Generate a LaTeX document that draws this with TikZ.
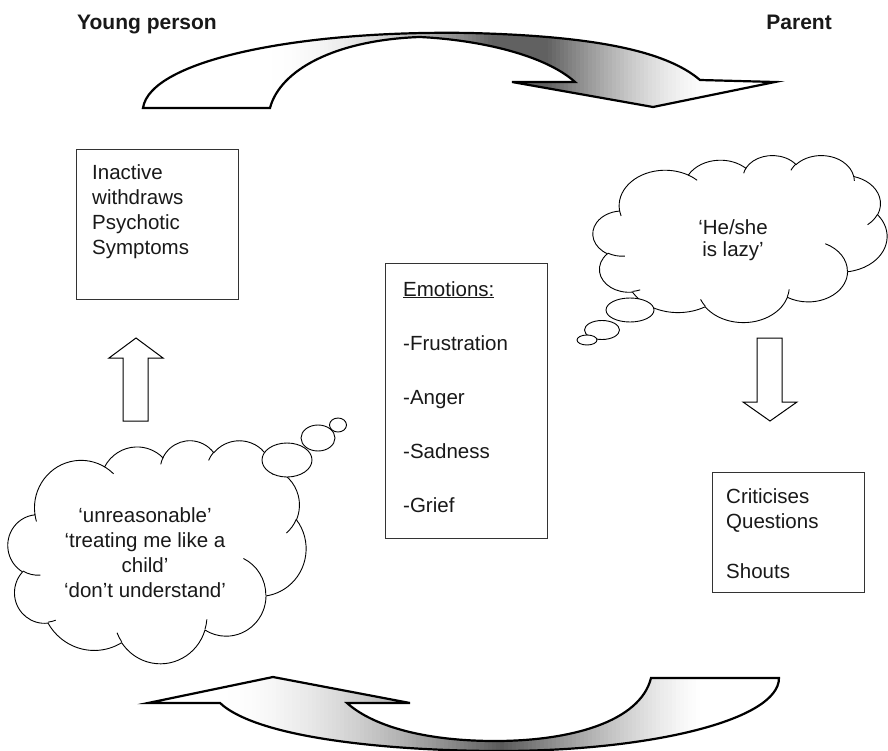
\documentclass[tikz,border=0pt]{standalone}
\usepackage{fontspec}
\setmainfont{Liberation Sans}
\usetikzlibrary{shapes.geometric}
% Word-style cloud: parametric angles from visual angles
\newcommand\cldprep[5]{%
  \pgfmathsetmacro\cldtS{atan2((#2)*sin(#4),(#3)*cos(#4))}%
  \pgfmathsetmacro\cldtE{atan2((#2)*sin((#4)+(#5)),(#3)*cos((#4)+(#5)))}%
  \pgfmathsetmacro\cldtD{\cldtE-\cldtS}%
  \pgfmathsetmacro\cldtD{\cldtD<0 ? \cldtD+360 : \cldtD}%
  \expandafter\let\csname cldS#1\endcsname\cldtS
  \expandafter\let\csname cldD#1\endcsname\cldtD
}
\cldprep{a}{6.753}{9.190}{-190.4875}{123.7805}
\cldprep{b}{5.333}{7.267}{-144.1024}{89.9452}
\cldprep{c}{4.365}{5.945}{-145.8079}{99.7230}
\cldprep{d}{4.857}{6.595}{-130.9861}{117.2417}
\cldprep{e}{5.333}{7.273}{-78.7089}{109.0269}
\cldprep{f}{6.775}{9.220}{-46.2673}{130.2690}
\cldprep{g}{5.785}{7.867}{0.6250}{114.0333}
\cldprep{h}{6.752}{9.215}{22.4516}{115.1726}
\cldprep{i}{7.720}{10.543}{66.2426}{75.7110}
\cldprep{j}{4.360}{5.918}{-274.9421}{146.7356}
\cldprep{k}{4.345}{5.945}{-246.8285}{152.5189}
\cldprep{l}{4.345}{5.945}{86.7420}{26.4295}
\cldprep{m}{4.360}{5.918}{73.6105}{11.4475}
\cldprep{n}{6.752}{9.215}{137.6242}{14.0811}
\cldprep{o}{6.752}{9.215}{6.4533}{15.9984}
\cldprep{p}{5.785}{7.867}{-70.2924}{70.9174}
\cldprep{q}{5.333}{7.273}{30.3180}{27.7515}
\cldprep{r}{4.857}{6.595}{-13.7443}{14.8512}
\cldprep{s}{4.857}{6.595}{-149.1815}{18.1959}
\cldprep{t}{4.365}{5.945}{-163.4943}{17.6942}
\cldprep{u}{6.753}{9.190}{-66.7070}{12.3194}
\cldprep{v}{6.753}{9.190}{157.6544}{11.8582}
\newcommand\wordcloud{%
  \draw[cloudline, fill=white] (3.9,14.37)
    arc[start angle=\cldSa, delta angle=\cldDa, x radius=6.753, y radius=9.190]
    arc[start angle=\cldSb, delta angle=\cldDb, x radius=5.333, y radius=7.267]
    arc[start angle=\cldSc, delta angle=\cldDc, x radius=4.365, y radius=5.945]
    arc[start angle=\cldSd, delta angle=\cldDd, x radius=4.857, y radius=6.595]
    arc[start angle=\cldSe, delta angle=\cldDe, x radius=5.333, y radius=7.273]
    arc[start angle=\cldSf, delta angle=\cldDf, x radius=6.775, y radius=9.220]
    arc[start angle=\cldSg, delta angle=\cldDg, x radius=5.785, y radius=7.867]
    arc[start angle=\cldSh, delta angle=\cldDh, x radius=6.752, y radius=9.215]
    arc[start angle=\cldSi, delta angle=\cldDi, x radius=7.720, y radius=10.543]
    arc[start angle=\cldSj, delta angle=\cldDj, x radius=4.360, y radius=5.918]
    arc[start angle=\cldSk, delta angle=\cldDk, x radius=4.345, y radius=5.945]
    -- cycle;
  \draw[cloudline]
    (4.693,26.177) arc[start angle=\cldSl, delta angle=\cldDl, x radius=4.345, y radius=5.945]
    (6.928,34.899) arc[start angle=\cldSm, delta angle=\cldDm, x radius=4.360, y radius=5.918]
    (16.478,39.090) arc[start angle=\cldSn, delta angle=\cldDn, x radius=6.752, y radius=9.215]
    (28.827,34.751) arc[start angle=\cldSo, delta angle=\cldDo, x radius=6.752, y radius=9.215]
    (34.129,22.954) arc[start angle=\cldSp, delta angle=\cldDp, x radius=5.785, y radius=7.867]
    (41.798,15.354) arc[start angle=\cldSq, delta angle=\cldDq, x radius=5.333, y radius=7.273]
    (38.324,5.426) arc[start angle=\cldSr, delta angle=\cldDr, x radius=4.857, y radius=6.595]
    (29.078,3.952) arc[start angle=\cldSs, delta angle=\cldDs, x radius=4.857, y radius=6.595]
    (22.141,4.720) arc[start angle=\cldSt, delta angle=\cldDt, x radius=4.365, y radius=5.945]
    (14.000,5.192) arc[start angle=\cldSu, delta angle=\cldDu, x radius=6.753, y radius=9.190]
    (4.127,15.789) arc[start angle=\cldSv, delta angle=\cldDv, x radius=6.753, y radius=9.190];
}
\def\toparrowpath{(143,108) -- (270,108)
  .. controls (280,70) and (335,40) .. (420,37)
  .. controls (480,40) and (545,55) .. (575,82)
  -- (512,82) -- (653,107) -- (775,82) -- (700,80)
  .. controls (665,50) and (590,36) .. (470,33)
  .. controls (300,30) and (150,60) .. (143,108) -- cycle}
\def\botarrowpath{(273,677) -- (148,703) -- (220,703)
  .. controls (260,740) and (400,751) .. (500,751)
  .. controls (650,751) and (779,720) .. (779,678)
  -- (651,678)
  .. controls (640,722) and (570,741) .. (495,741)
  .. controls (430,741) and (375,728) .. (347,703)
  -- (410,703) -- cycle}
\tikzset{
  arrowline/.style={draw=black, line width=2.2pt},
  boxstyle/.style={draw=black!80, line width=1.1pt, fill=white, inner sep=0pt},
  thinarrow/.style={draw=black, line width=1pt, fill=white},
  cloudline/.style={draw=black, line width=0.9pt},
  bubble/.style={ellipse, draw=black, line width=0.9pt, fill=white, inner sep=0pt},
  body/.style={font=\fontsize{20.5}{25}\selectfont, inner sep=0pt, text=black!90},
  heading/.style={font=\bfseries\fontsize{21}{25}\selectfont, inner sep=0pt, text=black!90}
}
\begin{document}
\begin{tikzpicture}[x=1pt,y=-1pt]
\useasboundingbox (0,0) rectangle (888,751);
% headings
\node[heading, anchor=base west] (yp) at (77,30) {Young person};
\node[heading, anchor=base east] (par) at (832,30) {Parent};
% top arrow (gradient in vertical strips)
\begin{scope}
  \clip \toparrowpath;
  \foreach \xx in {140,144,...,780}{
    \pgfmathsetmacro\pv{62*(max(0.0001,min(1,(\xx-260)/230)))^2*(max(0.0001,min(1,(710-\xx)/165)))^1.5}
    \fill[black!\pv] (\xx,25) rectangle ({\xx+4.6},115);
  }
\end{scope}
\draw[arrowline] \toparrowpath;
% bottom arrow
\begin{scope}
  \clip \botarrowpath;
  \foreach \xx in {144,148,...,784}{
    \pgfmathsetmacro\pv{65*(max(0.0001,min(1,(\xx-220)/280)))^1.7*(max(0.0001,min(1,(700-\xx)/200)))^1.3}
    \fill[black!\pv] (\xx,670) rectangle ({\xx+4.6},756);
  }
\end{scope}
\draw[arrowline] \botarrowpath;
% boxes
\node[boxstyle, minimum width=162pt, minimum height=150pt, anchor=north west] (act) at (76,149) {};
\node[body, anchor=north west, align=left] (acttxt) at (92,164) {Inactive\\withdraws\\Psychotic\\Symptoms};
\node[boxstyle, minimum width=162pt, minimum height=275pt, anchor=north west] (emo) at (385,263) {};
\node[body, anchor=north west, align=left] (emotxt) at (403,281) {\underline{Emotions:}\\[29pt]-Frustration\\[29pt]-Anger\\[29pt]-Sadness\\[29pt]-Grief};
\node[boxstyle, minimum width=152pt, minimum height=120pt, anchor=north west] (crit) at (712,472) {};
\node[body, anchor=north west, align=left] (crittxt) at (726,488) {Criticises\\Questions\\[25pt]Shouts};
% young person's cloud
\begin{scope}[shift={(8,440)}, xscale=298/43.2, yscale=223/43.2]
  \wordcloud
  \coordinate (ycloud) at (21.6,21.6);
\end{scope}
\node[bubble, minimum width=50pt, minimum height=34pt] (yb1) at (287,460) {};
\node[bubble, minimum width=34pt, minimum height=26pt] (yb2) at (318,438) {};
\node[bubble, minimum width=17pt, minimum height=14pt] (yb3) at (338,425) {};
\node[body, align=center, anchor=north] (ytxt) at (145,507) {‘unreasonable’\\‘treating me like a\\child’\\‘don’t understand’};
% parent's cloud
\begin{scope}[shift={(593,155)}, xscale=294/43.2, yscale=167/43.2]
  \wordcloud
  \coordinate (pcloud) at (21.6,21.6);
\end{scope}
\node[bubble, minimum width=48pt, minimum height=24pt] (pb1) at (630,310) {};
\node[bubble, minimum width=35pt, minimum height=19pt] (pb2) at (602,330) {};
\node[bubble, minimum width=20pt, minimum height=10pt] (pb3) at (587,340) {};
\node[body, align=center, anchor=north, font=\fontsize{20.5}{22}\selectfont] (ptxt) at (733,219) {‘He/she\\is lazy’};
% block arrows
\draw[thinarrow] (123,421) -- (148,421) -- (148,358) -- (163,358) -- (136,338) -- (109,358) -- (123,358) -- cycle;
\draw[thinarrow] (757,338) -- (782,338) -- (782,402) -- (797,402) -- (770,421) -- (743,402) -- (757,402) -- cycle;
\end{tikzpicture}
\end{document}
